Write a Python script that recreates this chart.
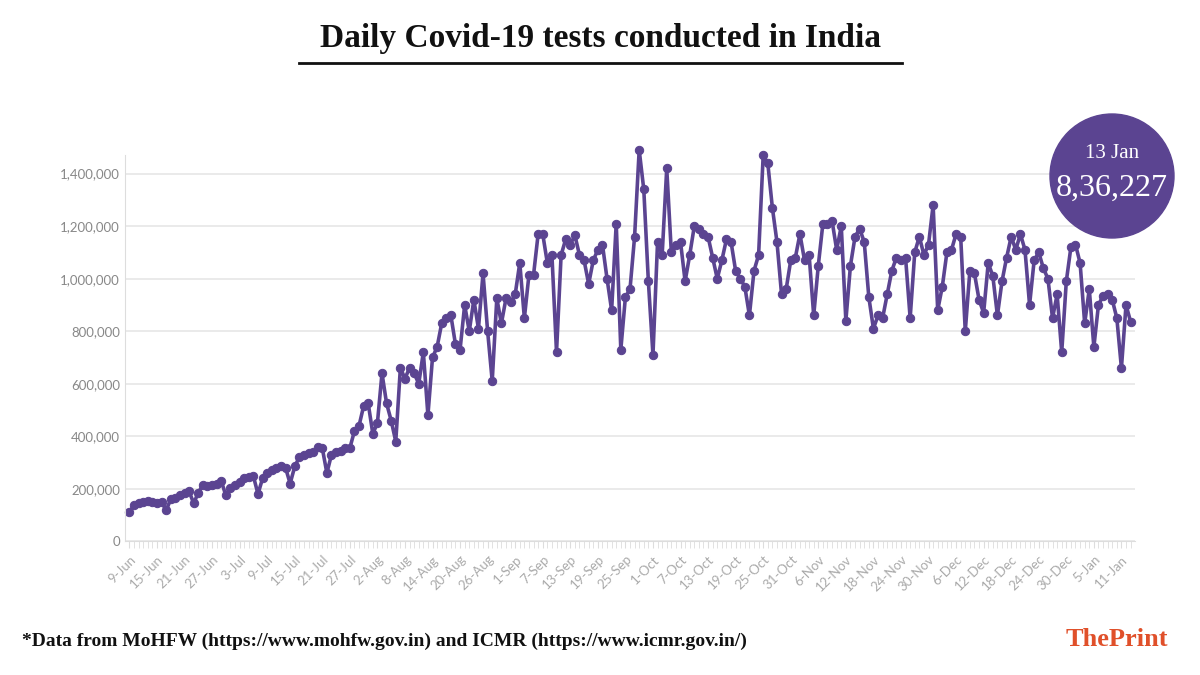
import numpy as np, pandas as pd, seaborn as sns
import matplotlib
matplotlib.use("Agg")
import matplotlib.pyplot as plt
from matplotlib.patches import Ellipse

start_date = "2020-06-09"
jun = [110,140,145,150,152,150,145,150,118,160,165,175,185,190,145,185,215,210,215,220,230,175]
jul = [205,215,225,240,245,248,180,240,260,270,280,285,280,220,285,320,330,335,340,360,355,260,330,340,345,355,355,420,440,515,525]
aug = [410,450,640,525,460,380,660,620,660,640,600,720,480,700,740,830,850,860,750,730,900,800,920,810,1020,800,610,925,830,925,910]
sep = [940,1060,850,1015,1015,1170,1170,1060,1090,720,1090,1150,1130,1165,1090,1070,980,1070,1110,1130,1000,880,1210,730,930,960,1160,1490,1340,990]
oct_ = [710,1140,1090,1420,1100,1130,1140,990,1090,1200,1190,1170,1160,1080,1000,1070,1150,1140,1030,1000,970,860,1030,1090,1470,1440,1270,1140,940,960,1070]
nov = [1080,1170,1070,1090,860,1050,1210,1210,1220,1110,1200,840,1050,1160,1190,1140,930,810,860,850,940,1030,1080,1070,1080,850,1100,1160,1090,1130]
dec = [1280,880,970,1100,1110,1170,1160,800,1030,1020,920,870,1060,1010,860,990,1080,1160,1110,1170,1110,900,1070,1100,1040,1000,850,940,720,990,1120]
jan = [1130,1060,830,960,740,900,935,940,920,850,660,900,836.227]
tests_thousands = jun + jul + aug + sep + oct_ + nov + dec + jan

dates = pd.date_range(start_date, periods=len(tests_thousands), freq="D")
df = pd.DataFrame({"date": dates, "tests": np.array(tests_thousands) * 1000})
purple = "#5b4491"

fig = plt.figure(figsize=(12, 6.75), dpi=100)
ax = fig.add_axes([0.104, 0.198, 0.842, 0.572])
sns.lineplot(data=df, x="date", y="tests", ax=ax, color=purple, lw=2.6,
             marker="o", markersize=6, markeredgecolor=purple, clip_on=False)
ax.set_ylim(0, 1.47e6)
ax.set_xlim(dates[0] - pd.Timedelta(days=1), dates[-1] + pd.Timedelta(days=1))
ax.set_yticks(np.arange(0, 1.4e6 + 1, 2e5))
ax.set_yticklabels([f"{int(v):,}" for v in np.arange(0, 1.4e6 + 1, 2e5)], color="#888888", fontsize=9.5, fontfamily="Lato")
ticks = dates[::6]
ax.set_xticks(ticks)
ax.set_xticklabels([f"{d.day}-{d.strftime('%b')}" for d in ticks], rotation=45, ha="right",
                   rotation_mode="anchor", color="#aaaaaa", fontsize=9.5, fontfamily="Lato")
ax.set_xticks(dates, minor=True)
ax.tick_params(axis="x", which="both", length=5, color="#dddddd")
ax.tick_params(axis="y", length=0)
ax.grid(axis="y", color="#e6e6e6", lw=1.2)
for s in ["top", "right"]:
    ax.spines[s].set_visible(False)
ax.spines["left"].set_color("#dddddd")
ax.spines["bottom"].set_color("#dddddd")
ax.set_xlabel(""); ax.set_ylabel("")

fig.text(0.5, 0.943, "Daily Covid-19 tests conducted in India", ha="center", va="center",
         fontsize=24, fontweight="bold", fontfamily="Liberation Serif", color="#111111")
fig.add_artist(plt.Line2D([0.249, 0.752], [0.907, 0.907], color="#111111", lw=2))
fig.add_artist(Ellipse((1112/1200, 1 - 176/675), 124/1200, 124/675, color=purple, transform=fig.transFigure))
fig.text(1112/1200, 1 - 153/675, "13 Jan", ha="center", va="center", color="white", fontsize=15, fontfamily="Liberation Serif")
fig.text(1112/1200, 1 - 188/675, "8,36,227", ha="center", va="center", color="white", fontsize=23, fontfamily="Liberation Serif")
fig.text(0.018, 1 - 641/675, "*Data from MoHFW (https://www.mohfw.gov.in) and ICMR (https://www.icmr.gov.in/)",
         ha="left", va="center", fontsize=14, fontweight="bold", fontfamily="Liberation Serif", color="#111111")
fig.text(0.973, 1 - 639/675, "ThePrint", ha="right", va="center", fontsize=19, fontweight="bold",
         fontfamily="Liberation Serif", color="#e0502a")
fig.savefig("out.png", dpi=100)
